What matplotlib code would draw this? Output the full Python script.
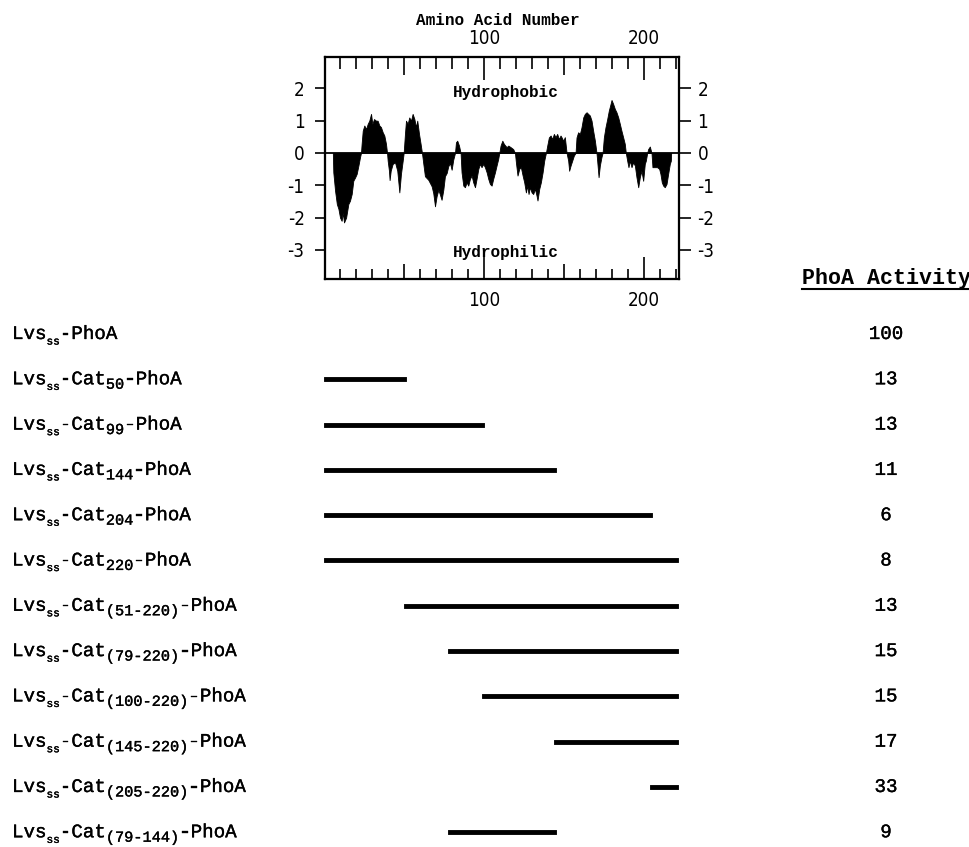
import matplotlib
matplotlib.use("Agg")
import matplotlib.pyplot as plt
import matplotlib.transforms as mtransforms
import matplotlib.patheffects as pe
from matplotlib.lines import Line2D

plt.rcParams['axes.unicode_minus'] = False

MONO = ['Liberation Mono', 'DejaVu Sans Mono']
NARROW = ['Liberation Sans Narrow', 'DejaVu Sans']

# hydropathy profile: residue number / index
hydro_aa = [
    5.5, 5.8, 6.9, 8.0, 9.0, 10.0, 11.0, 11.7, 12.5, 13.8, 15.2, 16.2, 17.3, 18.3, 19.4, 20.4, 21.5, 22.5, 23.1,
    23.5, 24.2, 25.2, 26.25, 27.3, 28.3, 29.4, 30.2, 31.25, 32.5, 33.5, 34.6, 35.6, 36.7, 37.7, 38.75, 39.4,
    39.8, 40.6, 41.0, 41.7, 42.9, 44.4, 45.8, 47.1, 48.1, 49.2, 49.8,
    50.6, 51.25, 52.3, 53.3, 54.4, 55.4, 56.5, 57.5, 58.3, 59.4, 60.4, 61.25,
    62.0, 63.1, 65.2, 67.3, 68.3, 69.4, 70.4, 71.5, 72.5, 73.5, 74.6, 75.6, 76.7, 77.7, 78.75, 79.8, 80.8, 81.9,
    82.5, 83.3, 84.4, 85.4,
    86.0, 87.1, 88.1, 89.2, 90.2, 91.25, 92.3, 93.3, 94.4, 95.4, 96.5, 97.5, 98.5, 99.6, 100.6, 101.7, 102.7,
    103.75, 104.8, 105.8, 106.9, 107.9, 108.9, 109.6,
    110.4, 111.5, 112.5, 114.2, 115.2, 116.7, 118.3, 119.4,
    120.0, 121.0, 122.1, 123.1, 124.2, 125.2, 126.25, 127.1, 127.9, 128.75, 129.8, 130.8, 131.9, 132.9, 133.5,
    134.6, 135.6, 136.7, 137.7, 138.75,
    139.6, 140.6, 141.7, 142.7, 143.75, 144.8, 145.8, 146.9, 147.9, 148.5, 149.6, 150.6, 151.7,
    152.7, 153.3, 154.2, 155.2, 156.25, 157.3,
    157.9, 158.9, 160.0, 161.0, 162.1, 163.1, 164.2, 165.2, 166.25, 167.3, 168.3, 169.4, 170.4,
    171.0, 171.7, 172.5, 173.5, 174.2,
    175.0, 176.0, 177.1, 178.1, 179.2, 179.8, 180.8, 181.9, 182.9, 184.0, 185.0, 186.0, 187.1, 188.1, 188.75,
    189.6, 190.4, 191.25, 192.3, 193.3, 194.4, 195.4, 196.5, 197.5, 198.5, 199.6, 200.6, 201.25, 202.1,
    202.7, 203.75, 204.8,
    205.4, 206.9, 208.3, 209.6, 210.4, 211.25, 212.1, 213.1, 214.2, 215.2, 216.25, 216.9, 217.1,
]
hydro_val = [
    0, -0.6, -1.17, -1.58, -1.73, -2.0, -2.1, -1.85, -2.15, -2.0, -1.58, -1.48, -1.27, -0.86, -0.76, -0.65, -0.39, -0.13, 0,
    0.28, 0.69, 0.85, 0.74, 0.9, 1.0, 1.21, 0.9, 1.05, 1.0, 1.0, 0.85, 0.8, 0.64, 0.54, 0.28, 0,
    -0.24, -0.55, -0.84, -0.55, -0.34, -0.29, -0.55, -1.22, -0.65, -0.24, 0,
    0.59, 1.0, 0.9, 1.1, 1.0, 1.21, 1.05, 0.8, 1.0, 0.59, 0.28, 0,
    -0.3, -0.72, -0.83, -1.03, -1.24, -1.65, -1.34, -1.14, -1.29, -1.45, -1.14, -0.72, -0.62, -0.41, -0.31, -0.52, -0.21, 0,
    0.33, 0.38, 0.23, 0,
    -0.6, -1.01, -1.06, -0.91, -1.01, -0.8, -0.7, -0.91, -1.06, -0.8, -0.49, -0.34, -0.44, -0.34, -0.44, -0.6, -0.8,
    -0.96, -1.01, -0.8, -0.6, -0.39, -0.19, 0,
    0.23, 0.38, 0.28, 0.18, 0.23, 0.18, 0.12, 0,
    -0.29, -0.7, -0.49, -0.44, -0.7, -0.91, -1.22, -1.01, -1.27, -1.06, -1.22, -1.27, -1.11, -1.32, -1.47,
    -1.11, -0.91, -0.6, -0.24, 0,
    0.23, 0.48, 0.54, 0.43, 0.59, 0.49, 0.59, 0.43, 0.54, 0.49, 0.38, 0.49, 0,
    -0.24, -0.55, -0.39, -0.24, -0.08, 0,
    0.48, 0.64, 0.59, 0.79, 1.1, 1.21, 1.26, 1.21, 1.16, 1.0, 0.69, 0.38, 0,
    -0.34, -0.75, -0.39, -0.13, 0,
    0.48, 0.79, 1.05, 1.31, 1.52, 1.64, 1.52, 1.36, 1.26, 1.1, 0.9, 0.69, 0.48, 0.28, 0,
    -0.24, -0.44, -0.24, -0.44, -0.29, -0.39, -0.75, -1.06, -0.75, -0.55, -0.86, -0.34, -0.24, 0,
    0.12, 0.2, 0,
    -0.44, -0.44, -0.44, -0.49, -0.65, -0.91, -1.01, -1.06, -0.96, -0.65, -0.34, -0.24, 0,
]

# fusion constructs
cat_parts = ['', '50', '99', '144', '204', '220', '(51-220)', '(79-220)',
             '(100-220)', '(145-220)', '(205-220)', '(79-144)']
seg_start = [None, 1, 1, 1, 1, 1, 51, 79, 100, 145, 205, 79]
seg_end = [None, 50, 99, 144, 204, 220, 220, 220, 220, 220, 220, 144]
activity = [100, 13, 13, 11, 6, 8, 13, 15, 15, 17, 33, 9]

y_ticks = [-3, -2, -1, 0, 1, 2]
x_major = [50, 100, 150, 200]
x_labeled = [100, 200]
x_minor = list(range(10, 221, 10))

W, H = 970, 847
fig = plt.figure(figsize=(W / 100, H / 100), dpi=100)

tick_font = dict(fontfamily=NARROW, fontstretch='condensed', fontsize=13.5)
heavy = [pe.withStroke(linewidth=0.25, foreground='black')]

# ---- hydropathy plot ----
ax = fig.add_axes([325 / W, 1 - 279 / H, 354 / W, 222 / H])
ax.fill_between(hydro_aa, hydro_val, 0, color='black', lw=0.6, edgecolor='black')
ax.axhline(0, color='black', lw=1.3)
ax.set_xlim(0.6, 222)
ax.set_ylim(-3.9, 2.97)
for s in ax.spines.values():
    s.set_linewidth(1.5)

xlabels = [str(v) if v in x_labeled else '' for v in x_major]
ax.set_yticks(y_ticks)
ax.set_yticklabels([str(v) for v in y_ticks], **tick_font)
ax.tick_params(axis='y', direction='out', length=7.2, width=1.2, pad=7.5)
ax.set_xticks(x_major)
ax.set_xticklabels(xlabels, **tick_font)
ax.set_xticks(x_minor, minor=True)
ax.tick_params(axis='x', which='both', direction='in', width=1.2, pad=9)
ax.tick_params(axis='x', which='minor', length=7.2)
ax.tick_params(axis='x', which='major', length=16)

ax_top = ax.twiny()
ax_top.set_xlim(ax.get_xlim())
ax_top.set_xticks(x_major)
ax_top.set_xticklabels(xlabels, **tick_font)
ax_top.set_xticks(x_minor, minor=True)
ax_top.tick_params(axis='x', which='both', direction='in', width=1.2, pad=6.5)
ax_top.tick_params(axis='x', which='minor', length=8.4)
ax_top.tick_params(axis='x', which='major', length=16.8)
for s in ax_top.spines.values():
    s.set_linewidth(1.5)

ax_right = ax.twinx()
ax_right.set_ylim(ax.get_ylim())
ax_right.set_yticks(y_ticks)
ax_right.set_yticklabels([str(v) for v in y_ticks], **tick_font)
ax_right.tick_params(axis='y', direction='out', length=8.6, width=1.2, pad=4.8)
for s in ax_right.spines.values():
    s.set_linewidth(1.5)

# medium length ticks at 50 and 150
for tick, v in zip(ax.xaxis.get_major_ticks(), x_major):
    if v not in x_labeled:
        tick.tick1line.set_markersize(10.8)
for tick, v in zip(ax_top.xaxis.get_major_ticks(), x_major):
    if v not in x_labeled:
        tick.tick2line.set_markersize(13)

ax.text(0.489, 1.144, 'Amino Acid Number', transform=ax.transAxes, ha='center',
        va='baseline', fontfamily=MONO, fontweight='bold', fontsize=11.5)
ax.text(0.511, 0.822, 'Hydrophobic', transform=ax.transAxes, ha='center',
        va='baseline', fontfamily=MONO, fontweight='bold', fontsize=11.5)
ax.text(0.511, 0.098, 'Hydrophilic', transform=ax.transAxes, ha='center',
        va='baseline', fontfamily=MONO, fontweight='bold', fontsize=11.5)

# ---- construct map ----
ax_bar = fig.add_axes([325 / W, 0, 354 / W, (H - 305) / H])
ax_bar.set_xlim(ax.get_xlim())
ax_bar.set_ylim(11.325, -0.640)
ax_bar.axis('off')

rows = list(range(len(cat_parts)))
bar_rows = [r for r in rows if seg_start[r] is not None]
ax_bar.hlines(bar_rows, [seg_start[r] for r in bar_rows], [seg_end[r] for r in bar_rows],
              color='black', lw=3.5, capstyle='projecting', clip_on=False)

MAIN, SS, NUM = 13.8, 8, 11
lab_tr = mtransforms.blended_transform_factory(fig.transFigure, ax_bar.transData)


def draw_label(row, cat):
    pieces = [('Lvs', MAIN, 0), ('ss', SS, -4.0), ('-', MAIN, 0)]
    if cat:
        pieces += [('Cat', MAIN, 0), (cat, NUM, -3.2), ('-', MAIN, 0)]
    pieces.append(('PhoA', MAIN, 0))
    dx = 0
    for txt, size, dy in pieces:
        tr = mtransforms.offset_copy(lab_tr, fig=fig, x=dx, y=dy - 3.6, units='points')
        ax_bar.text(12 / W, row, txt, transform=tr, fontsize=size, fontfamily=MONO,
                    ha='left', va='baseline', path_effects=heavy)
        dx += len(txt) * 0.6 * size


act_tr = mtransforms.offset_copy(lab_tr, fig=fig, x=0, y=-3.6, units='points')
for r in rows:
    draw_label(r, cat_parts[r])
    ax_bar.text(886 / W, r, str(activity[r]), transform=act_tr, fontsize=MAIN,
                fontfamily=MONO, ha='center', va='baseline', path_effects=heavy)

hdr = fig.text(802 / W, 1 - 284 / H, 'PhoA Activity', fontfamily=MONO,
               fontweight='bold', fontsize=15.6, va='baseline')
fig.canvas.draw()
bb = hdr.get_window_extent()
uy = H - 288.5
fig.add_artist(Line2D([bb.x0, bb.x1], [uy, uy], color='black', lw=1.5,
                      transform=mtransforms.IdentityTransform()))

fig.savefig('out.png', dpi=100)
